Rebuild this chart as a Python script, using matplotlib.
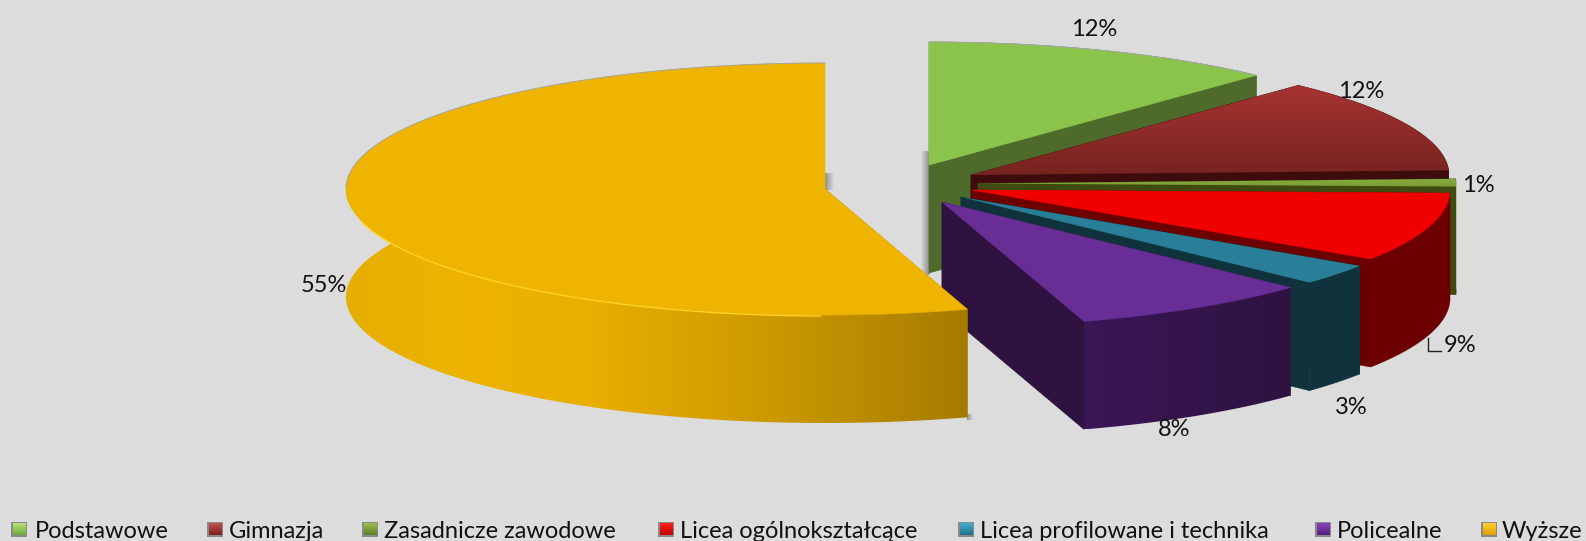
import numpy as np
import matplotlib
matplotlib.use("Agg")
import matplotlib.pyplot as plt
from matplotlib.patches import Polygon, Rectangle
from matplotlib.colors import LinearSegmentedColormap as LSC

# ---- data ----
categories = ["Podstawowe", "Gimnazja", "Zasadnicze zawodowe", "Licea ogólnokształcące",
              "Licea profilowane i technika", "Policealne", "Wyższe"]
shares = [12.0, 12.4, 1.0, 8.9, 2.7, 8.2, 54.8]
percent_labels = ["12%", "12%", "1%", "9%", "3%", "8%", "55%"]

# ---- layout & style ----
BG = "#DCDCDC"
DEPTH = 108
radii = [(478, 123), (478, 123), (478, 123), (478, 125), (478, 125), (478, 125), (479, 126)]
centers = [(929, 165), (971, 175), (978, 183.5), (972, 190), (961, 197), (942, 202), (825, 189)]
top_colors = [["#8AC44B", "#8AC44B"], ["#A83333", "#762420"], ["#86AC3E", "#7A9C36"],
              ["#F00000", "#F00000"], ["#2A8099", "#2A7F98"], ["#692D96", "#692D96"],
              ["#EEB400", "#EEB400"]]
side_colors = [["#4F6B2B", "#4F6B2B"], ["#3E0C0C", "#3E0C0C"], ["#3F4A10", "#3F4A10"],
               ["#6C0000", "#6C0000"], ["#10323C", "#10323C"], ["#3A1758", "#2F1240"],
               ["#E6AE00", "#EEB400", "#E8AE00", "#D4A000", "#BE8E00", "#A67B00"]]
face_colors = ["#4F6B2B", "#3E0C0C", "#3F4A10", "#6C0000", "#10323C", "#2F1240", "#A67B00"]
label_pos = [(1094, 30), (1361, 91), (1478, 185), (1460, 346), (1351, 407), (1174, 429), (324, 286)]
swatch_x = [11, 207, 362, 658, 958, 1315, 1481]
text_x = [34.5, 228.5, 383.5, 680, 980, 1336.5, 1501.5]
swatch_colors = [("#B6E27A", "#6FA833"), ("#C25050", "#7C2020"), ("#9DBF50", "#5F7F25"),
                 ("#FF2020", "#C00000"), ("#45AFCF", "#1F6F88"), ("#8A45BE", "#54207E"),
                 ("#FFD030", "#E0A000")]

plt.rcParams["font.family"] = ["Lato", "DejaVu Sans"]
fig = plt.figure(figsize=(15.86, 5.41), dpi=100, facecolor=BG)
ax = fig.add_axes([0, 0, 1, 1])
ax.set_facecolor(BG)
ax.axis("off")


def pt(a, c, r, dz=0):
    return c[0] + r[0] * np.sin(a), c[1] - r[1] * np.cos(a) + dz


def grad_fill(xy, colors, horizontal=True, z=1):
    xy = np.asarray(xy)
    poly = Polygon(xy, closed=True, facecolor="none", edgecolor="none", zorder=z)
    ax.add_patch(poly)
    if len(set(colors)) == 1:
        poly.set_facecolor(colors[0])
        poly.set_edgecolor(colors[0])
        poly.set_linewidth(0.4)
    else:
        g = np.linspace(0, 1, 256)
        g = g[None, :] if horizontal else g[:, None]
        x0, x1, y0, y1 = xy[:, 0].min(), xy[:, 0].max(), xy[:, 1].min(), xy[:, 1].max()
        im = ax.imshow(g, cmap=LSC.from_list("g", colors), extent=(x0, x1, y1, y0),
                       aspect="auto", zorder=z, interpolation="bilinear")
        im.set_clip_path(poly)


def shadow(x0, x1, y0, y1, z):
    g = np.linspace(0, 1, 64)[None, :]
    cols = ["#8E8E8E", BG] if x0 < x1 else [BG, "#8E8E8E"]
    ax.imshow(g, cmap=LSC.from_list("s", cols), extent=(min(x0, x1), max(x0, x1), y1, y0),
              aspect="auto", zorder=z, interpolation="bilinear")


# soft shadows beside the exploded slices
shadow(929, 921, 151, 275, 0.5)
shadow(825, 834, 173, 190, 0.5)
shadow(967, 973, 414, 420, 0.5)

edges = np.cumsum([0] + shares) / sum(shares) * 2 * np.pi
z = 1
for i, (c, r) in enumerate(zip(centers, radii)):
    a0, a1 = edges[i], edges[i + 1]
    t = np.linspace(a0, a1, 200)
    ax_, ay_ = pt(t, c, r)
    bx_, by_ = pt(t, c, r, DEPTH)

    def face(a):
        px, py = pt(a, c, r)
        return [(c[0], c[1]), (px, py), (px, py + DEPTH), (c[0], c[1] + DEPTH)]

    # back radial face, outer rim, front radial face, then the top
    grad_fill(face(a0), [face_colors[i]], True, z)
    rim = np.column_stack([np.r_[ax_, bx_[::-1]], np.r_[ay_, by_[::-1]]])
    grad_fill(rim, side_colors[i], True, z + 0.1)
    if i != 6:
        grad_fill(face(a1), [face_colors[i]], True, z + 0.2)
    top = np.column_stack([np.r_[c[0], ax_], np.r_[c[1], ay_]])
    grad_fill(top, top_colors[i], False, z + 0.3)
    if i in (0, 6):
        seg = t[t > np.pi * 1.5] if i == 6 else t
        ex, ey = pt(seg, c, r)
        ax.plot(ex, ey, color="#A6A6A6", lw=0.7, zorder=z + 0.4)
    if i == 6:
        lit = t[(t > np.pi * 1.0) & (t < np.pi * 1.42)]
        lx, ly = pt(lit, c, r, 1.0)
        ax.plot(lx, ly, color="#FFD21F", lw=1.0, zorder=z + 0.5)
    z += 1

# labels
for (x, y), s in zip(label_pos, percent_labels):
    ax.text(x, y, s, ha="center", va="center", fontsize=17, color="#111111", zorder=20)
ax.plot([1428, 1428, 1441], [338, 351, 351], color="#222222", lw=1.0, zorder=20)

# legend
for sx, tx, name, (c1, c2) in zip(swatch_x, text_x, categories, swatch_colors):
    ax.add_patch(Rectangle((sx, 522), 16, 15, facecolor="#8A8A8A", edgecolor="none", zorder=20))
    ax.imshow(np.linspace(0, 1, 32)[:, None], cmap=LSC.from_list("l", [c1, c2]),
              extent=(sx + 1.5, sx + 14.5, 535.5, 523.5), aspect="auto", zorder=21)
    ax.text(tx, 531, name, ha="left", va="center", fontsize=17, color="#111111", zorder=20)

ax.set_xlim(0, 1586)
ax.set_ylim(541, 0)
fig.savefig("out.png", dpi=100, facecolor=BG)
